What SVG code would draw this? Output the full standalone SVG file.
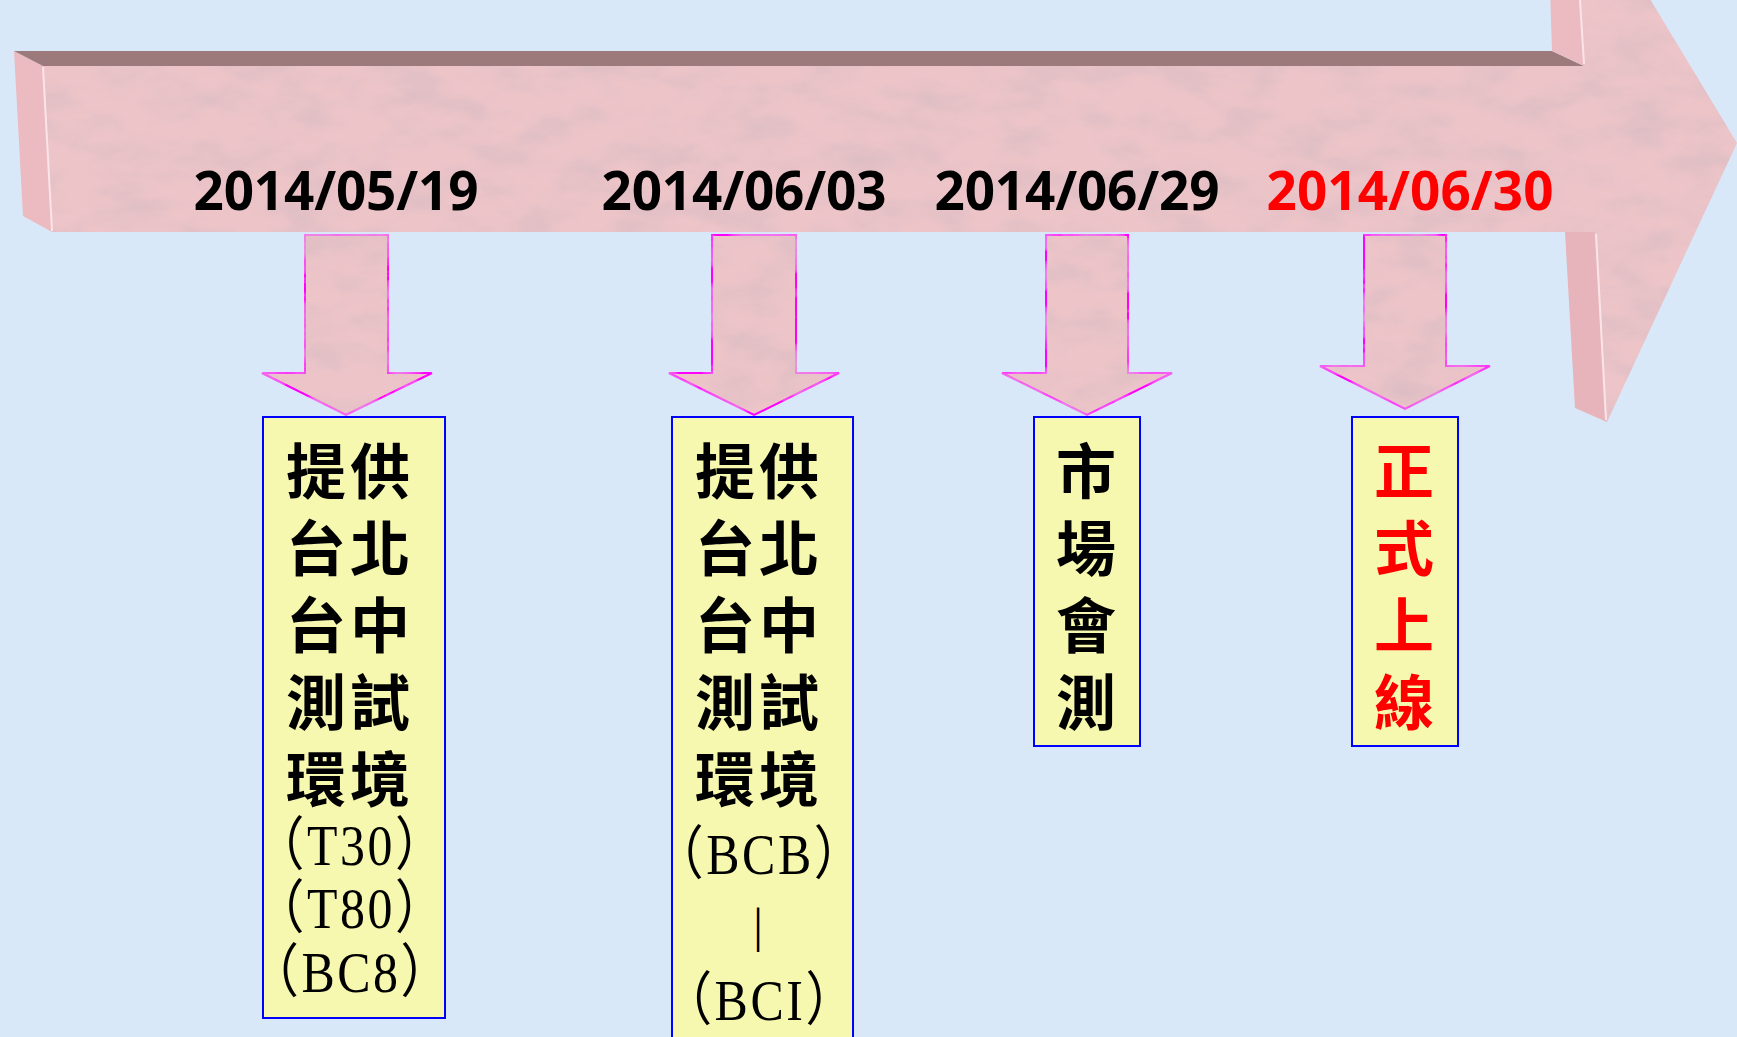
<svg xmlns="http://www.w3.org/2000/svg" width="1737" height="1037" viewBox="0 0 1737 1037">
<defs>
<filter id="marble" filterUnits="userSpaceOnUse" x="0" y="-200" width="1737" height="700">
<feTurbulence type="fractalNoise" baseFrequency="0.018 0.035" numOctaves="5" seed="7" result="n"/>
<feColorMatrix in="n" type="matrix" values="0 0 0 0 0.68  0 0 0 0 0.5  0 0 0 0 0.54  1.5 0 0 0 -0.58" result="spots"/>
<feComposite in="spots" in2="SourceGraphic" operator="in" result="sp"/>
<feMerge><feMergeNode in="SourceGraphic"/><feMergeNode in="sp"/></feMerge>
</filter>
<style>
.bg{fill:#D9E8F8}
.front{fill:#EDC5C9}
.top{fill:#9C7A7C}
.side{fill:#EBBBC1}
.side2{fill:#E6B4BA}
.hl{stroke:#FBE4E7;stroke-width:2;fill:none}
.down{fill:#EDC5C9;stroke:#FF00FF;stroke-width:2}
.box{fill:#F7F8B0;stroke:#0000FF;stroke-width:2}
.date{font-family:"Open Sans","Liberation Sans",sans-serif;font-weight:700;font-size:53px;text-anchor:middle}
.cjk{font-family:"Noto Sans CJK TC","Noto Sans CJK SC",sans-serif;font-weight:700;font-size:60px;text-anchor:middle}
.pair{letter-spacing:4px}
.lat{font-family:"Liberation Serif","Noto Sans CJK TC",serif;font-size:58px;text-anchor:middle}
</style>
</defs>
<rect class="bg" x="0" y="0" width="1737" height="1037"/>
<g id="timeline">
<polygon class="side" points="14,51 43,66 52,232 23,216"/>
<polygon class="top" points="14,51 1552,51 1584,66 43,66"/>
<polygon class="side" points="1546,-140 1572,-130 1584,66 1552,51"/>
<polygon class="side2" points="1565,232 1595,232 1607,422 1575,408"/>
<polygon class="front" filter="url(#marble)" points="43,66 1584,66 1572,-130 1737,143 1607,422 1595,232 52,232"/>
<line class="hl" x1="43" y1="67" x2="52" y2="231"/>
<line class="hl" x1="1580" y1="0" x2="1584" y2="64"/>
<line class="hl" x1="1596" y1="234" x2="1606" y2="420"/>
<text class="date" x="336" y="210" textLength="285" fill="#000000">2014/05/19</text>
<text class="date" x="744" y="210" textLength="285" fill="#000000">2014/06/03</text>
<text class="date" x="1077" y="210" textLength="285" fill="#000000">2014/06/29</text>
<text class="date" x="1410" y="210" textLength="287" fill="#FF0000">2014/06/30</text>
</g>
<g id="connectors">
<polygon class="down" filter="url(#marble)" points="305,235 388,235 388,373 432,373 346,415 262,373 305,373"/>
<polygon class="down" filter="url(#marble)" points="712,235 796,235 796,373 839,373 754,415 669,373 712,373"/>
<polygon class="down" filter="url(#marble)" points="1046,235 1128,235 1128,373 1172,373 1087,415 1002,373 1046,373"/>
<polygon class="down" filter="url(#marble)" points="1364,235 1446,235 1446,366 1490,366 1405,409 1320,366 1364,366"/>
</g>
<g id="node1">
<rect class="box" x="263" y="417" width="182" height="601"/>
<text class="cjk pair" x="350" y="494">提供</text>
<text class="cjk pair" x="350" y="571">台北</text>
<text class="cjk pair" x="350" y="648">台中</text>
<text class="cjk pair" x="350" y="725">測試</text>
<text class="cjk pair" x="350" y="802">環境</text>
<text class="lat" transform="translate(351,865) scale(0.86,1)" letter-spacing="3">（T30）</text>
<text class="lat" transform="translate(351,928) scale(0.86,1)" letter-spacing="3">（T80）</text>
<text class="lat" transform="translate(351,992) scale(0.86,1)" letter-spacing="3">（BC8）</text>
</g>
<g id="node2">
<rect class="box" x="672" y="417" width="181" height="640"/>
<text class="cjk pair" x="759" y="494">提供</text>
<text class="cjk pair" x="759" y="571">台北</text>
<text class="cjk pair" x="759" y="648">台中</text>
<text class="cjk pair" x="759" y="725">測試</text>
<text class="cjk pair" x="759" y="802">環境</text>
<text class="lat" transform="translate(760,874) scale(0.86,1)" letter-spacing="3">（BCB）</text>
<text class="lat" x="758" y="942" style="font-size:48px">|</text>
<text class="lat" transform="translate(760,1020) scale(0.86,1)" letter-spacing="3">（BCI）</text>
</g>
<g id="node3">
<rect class="box" x="1034" y="417" width="106" height="329"/>
<text class="cjk" x="1086" y="494">市</text>
<text class="cjk" x="1086" y="571">場</text>
<text class="cjk" x="1086" y="648">會</text>
<text class="cjk" x="1086" y="725">測</text>
</g>
<g id="node4">
<rect class="box" x="1352" y="417" width="106" height="329"/>
<text class="cjk" x="1404" y="494" fill="#FF0000">正</text>
<text class="cjk" x="1404" y="571" fill="#FF0000">式</text>
<text class="cjk" x="1404" y="648" fill="#FF0000">上</text>
<text class="cjk" x="1404" y="725" fill="#FF0000">線</text>
</g>
</svg>
